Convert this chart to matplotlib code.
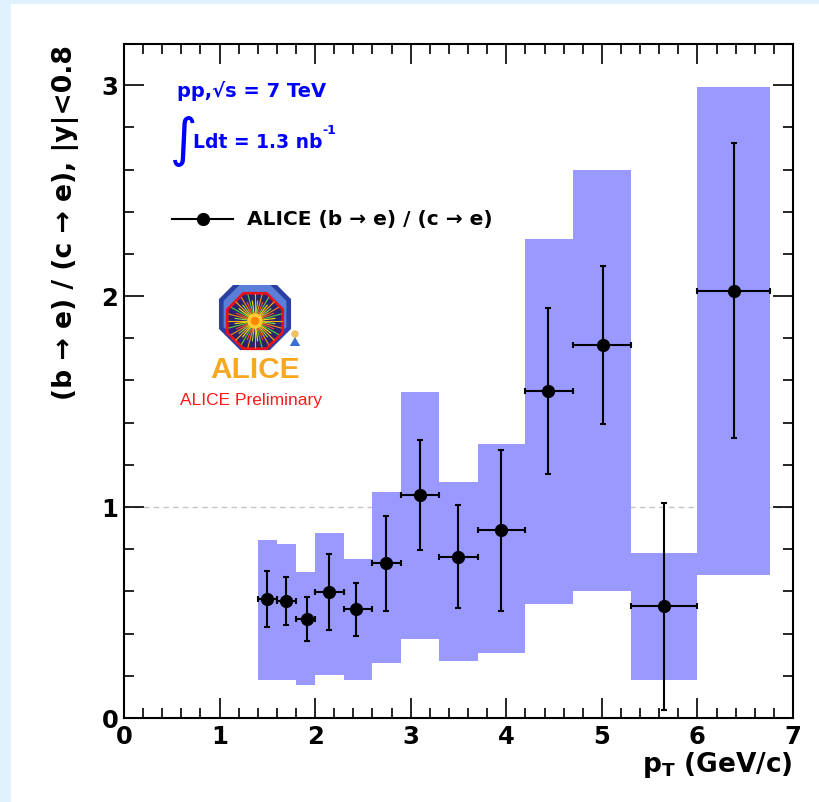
import numpy as np
import matplotlib
matplotlib.use('Agg')
import matplotlib.pyplot as plt
from matplotlib.patches import Rectangle, RegularPolygon

# ── Data ────────────────────────────────────────────────────────────────────
bin_lo  = [1.4, 1.6, 1.8, 2.0, 2.3, 2.6, 2.9, 3.3, 3.7, 4.2, 4.7, 5.3, 6.0]
bin_hi  = [1.6, 1.8, 2.0, 2.3, 2.6, 2.9, 3.3, 3.7, 4.2, 4.7, 5.3, 6.0, 6.76]
pt      = [1.50, 1.695, 1.91, 2.15, 2.43, 2.74, 3.10, 3.49, 3.94, 4.44, 5.01, 5.65, 6.38]
ratio   = [0.564, 0.556, 0.469, 0.597, 0.516, 0.733, 1.057, 0.765, 0.889, 1.55, 1.768, 0.531, 2.025]
stat_hi = [0.697, 0.668, 0.573, 0.777, 0.641, 0.957, 1.317, 1.008, 1.269, 1.945, 2.145, 1.018, 2.724]
stat_lo = [0.431, 0.440, 0.365, 0.419, 0.389, 0.509, 0.795, 0.521, 0.509, 1.155, 1.393, 0.040, 1.329]
sys_hi  = [0.844, 0.826, 0.693, 0.878, 0.754, 1.071, 1.547, 1.120, 1.300, 2.273, 2.597, 0.783, 2.990]
sys_lo  = [0.180, 0.180, 0.158, 0.204, 0.180, 0.260, 0.374, 0.270, 0.310, 0.539, 0.603, 0.178, 0.679]

plt.rcParams['font.family'] = ['DejaVu Sans']
plt.rcParams['font.weight'] = 'bold'
plt.rcParams['mathtext.fontset'] = 'custom'
plt.rcParams['mathtext.rm'] = 'DejaVu Sans:bold'
plt.rcParams['mathtext.it'] = 'DejaVu Sans:bold'
plt.rcParams['mathtext.bf'] = 'DejaVu Sans:bold'

W, H = 820, 802
fig = plt.figure(figsize=(W / 100, H / 100), dpi=100)
fig.patch.set_facecolor('#dff2fd')
fig.patches.append(Rectangle((11 / W, 0), 1, 1 - 4 / H, transform=fig.transFigure,
                             facecolor='white', edgecolor='none', zorder=-10))

def fx(px):
    return px / W

def fy(py):
    return 1 - py / H

ax = fig.add_axes([fx(124), fy(718), (793 - 124) / W, (718 - 44) / H])
ax.set_facecolor('white')

lo = np.array(bin_lo)
hi = np.array(bin_hi)
x = np.array(pt)
y = np.array(ratio)

# reference line at 1
ax.axhline(1.0, color='#c4c4c4', lw=1.0, ls=(0, (4, 3)), zorder=1)

# systematic boxes
ax.bar(lo, np.array(sys_hi) - np.array(sys_lo), width=hi - lo, bottom=sys_lo,
       align='edge', color='#9999ff', edgecolor='none', zorder=2)

# points with stat errors
ax.errorbar(x, y, xerr=[x - lo, hi - x],
            yerr=[y - np.array(stat_lo), np.array(stat_hi) - y],
            fmt='o', color='black', ms=8.5, elinewidth=1.5, capsize=2.2,
            capthick=1.5, zorder=4)

ax.set_xlim(0, 7)
ax.set_ylim(0, 3.195)
ax.set_xticks(range(0, 8))
ax.set_yticks([0, 1, 2, 3])
ax.set_xticks(np.arange(0, 7.01, 0.2), minor=True)
ax.set_yticks(np.arange(0, 3.19, 0.2), minor=True)
ax.tick_params(which='both', direction='in', top=True, right=True, width=1.2,
               labelsize=17.5)
ax.tick_params(which='major', length=14.5)
ax.tick_params(which='minor', length=7.2)
ax.tick_params(axis='x', pad=5)
ax.tick_params(axis='y', pad=4)
for lab in ax.get_xticklabels() + ax.get_yticklabels():
    lab.set_fontweight('bold')
for s in ax.spines.values():
    s.set_linewidth(1.5)

# axis titles
fig.text(fx(66), fy(45), '(b \u2192 e) / (c \u2192 e), |y|<0.8', rotation=90,
         ha='center', va='top', fontsize=19.2, fontweight='bold')
fig.text(fx(793), fy(772), r'p$_{\mathrm{T}}$ (GeV/c)', ha='right', va='baseline',
         fontsize=19, fontweight='bold')

# blue labels
fig.text(fx(177), fy(91), 'pp,\u221as = 7 TeV', ha='left', va='center',
         fontsize=14, fontweight='bold', color='#0000ff')
fig.text(fx(184), fy(141), '\u222b', ha='center', va='center', fontsize=38,
         fontweight='normal', color='#0000ff')
fig.text(fx(193), fy(143), 'Ldt = 1.3 nb', ha='left', va='center',
         fontsize=13.5, fontweight='bold', color='#0000ff')
fig.text(fx(322), fy(130), '-1', ha='left', va='center',
         fontsize=9, fontweight='bold', color='#0000ff')

# legend entry
fig.add_artist(plt.Line2D([fx(172), fx(233)], [fy(219), fy(219)], color='black',
                          lw=1.5, transform=fig.transFigure))
fig.add_artist(plt.Line2D([fx(203)], [fy(219)], marker='o', ms=8.5, color='black',
                          transform=fig.transFigure))
fig.text(fx(247), fy(219), 'ALICE (b \u2192 e) / (c \u2192 e)', ha='left', va='center',
         fontsize=14.5, fontweight='bold')

# ALICE logo (drawn approximation)
lg = fig.add_axes([fx(205), fy(390), 100 / W, 105 / H])
lg.set_xlim(0, 100)
lg.set_ylim(0, 105)
lg.set_aspect('equal')
lg.axis('off')
cx, cy = 50, 72
lg.add_patch(RegularPolygon((cx, cy + 4), 8, radius=39, orientation=np.pi / 8,
                            facecolor='#2b3fa3', edgecolor='none'))
lg.add_patch(RegularPolygon((cx, cy + 4), 8, radius=34, orientation=np.pi / 8,
                            facecolor='#5b7fd8', edgecolor='none'))
octo = RegularPolygon((cx, cy - 3), 8, radius=30, orientation=np.pi / 8,
                      facecolor='#2a2470', edgecolor='#e8101a', lw=2)
lg.add_patch(octo)
ray_colors = ['#ffb000', '#ffe600', '#4fcf3a', '#ff4a2a', '#ff8c00', '#8fe04a']
for i, a in enumerate(np.linspace(0, 2 * np.pi, 48, endpoint=False)):
    r = 27 if i % 2 == 0 else 20
    ln, = lg.plot([cx, cx + r * np.cos(a)], [cy - 3, cy - 3 + r * np.sin(a)],
                  color=ray_colors[i % len(ray_colors)], lw=0.8)
    ln.set_clip_path(octo)
lg.add_patch(plt.Circle((cx, cy - 3), 7, color='#ffcc33', zorder=3))
lg.add_patch(plt.Circle((cx, cy - 3), 3.5, color='#ff8800', zorder=4))
lg.add_patch(plt.Circle((90, 56), 3, color='#f0c060', zorder=3))
lg.add_patch(RegularPolygon((90, 47), 3, radius=6, facecolor='#3a70d0',
                            edgecolor='none', zorder=3))
lg.text(50, 20, 'ALICE', ha='center', va='center', fontsize=21.5,
        fontweight='bold', color='#f7a823', family=['Liberation Sans'])
fig.text(fx(251), fy(400), 'ALICE Preliminary', ha='center', va='center',
         fontsize=12.5, fontweight='normal', color='#ff1a1a',
         family=['Liberation Sans'])

plt.savefig('out.png', dpi=100)
